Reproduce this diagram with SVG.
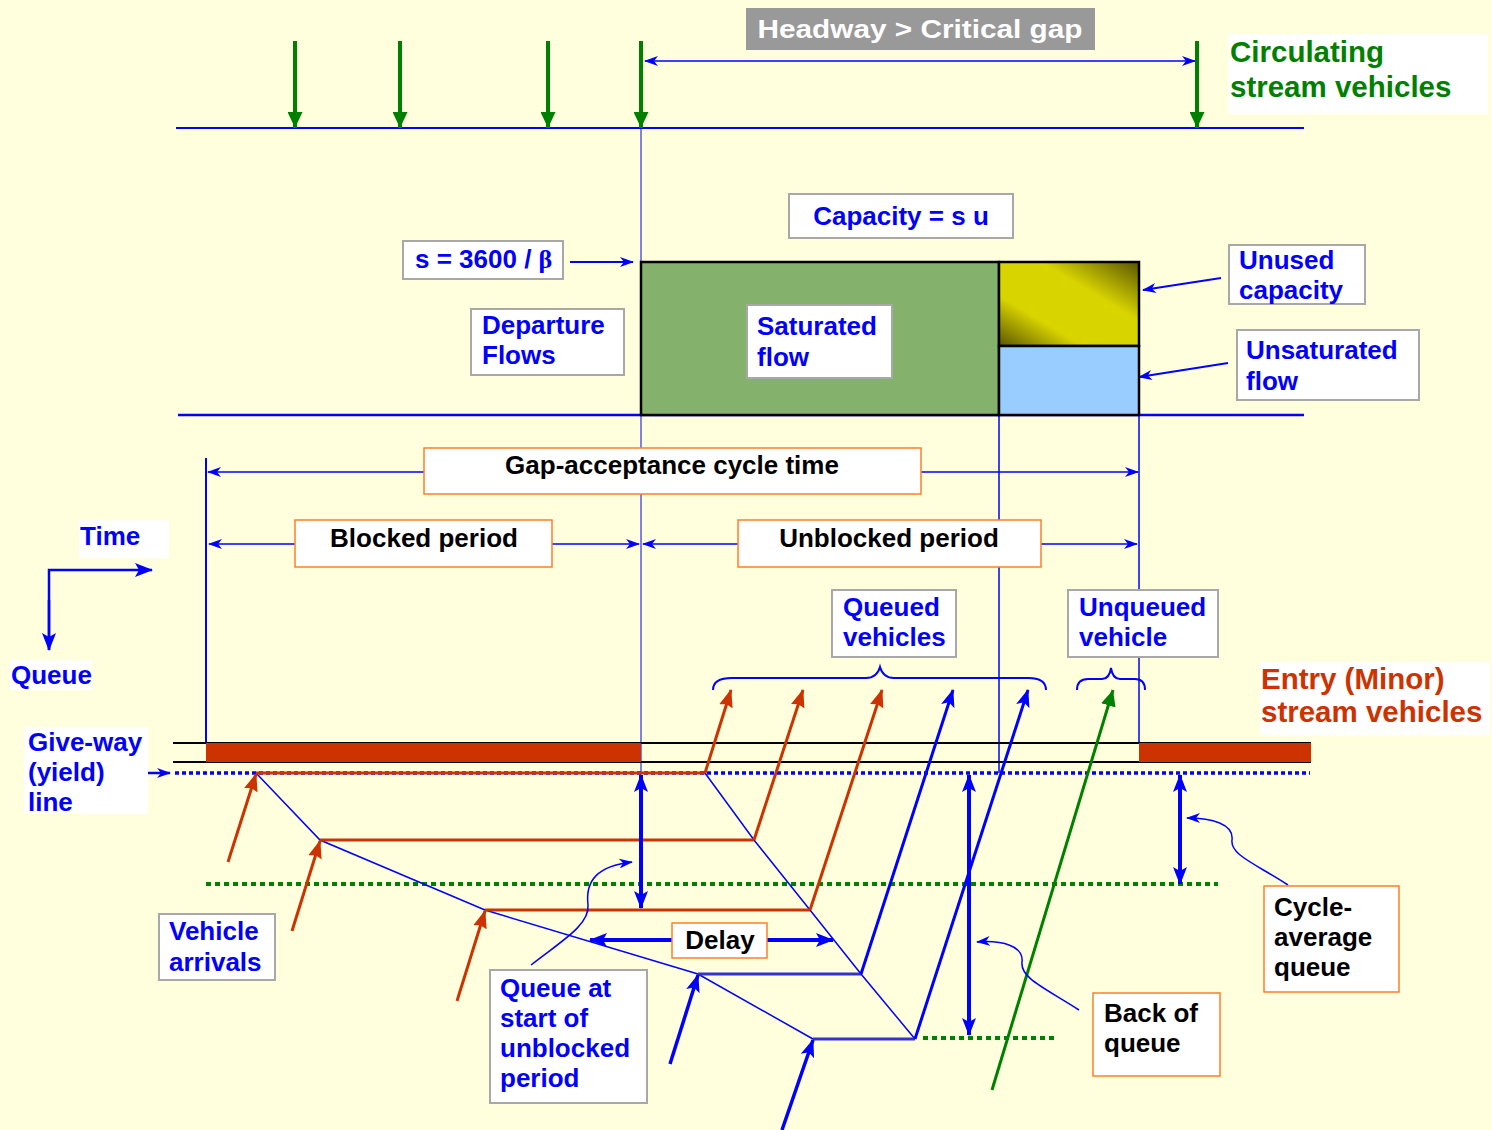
<svg xmlns="http://www.w3.org/2000/svg" width="1492" height="1130" viewBox="0 0 1492 1130">
<style>
text{font-family:"Liberation Sans",Arial,sans-serif;font-weight:bold;font-size:26px}
.bl{fill:#0000ff}.bk{fill:#000}.gr{fill:#008000;font-size:29.5px}.rd{fill:#cc3300;font-size:29.5px}
.gbox{fill:#fff;stroke:#a8a8a8;stroke-width:2}
.obox{fill:#fff;stroke:#ff7f27;stroke-width:1.5}
.wbox{fill:#fff}
.tl{stroke:#0000ff;stroke-width:1.5;fill:none}
.ml{stroke:#0000ff;stroke-width:2;fill:none}
.tk{stroke:#0000ff;stroke-width:4;fill:none}
.ga{stroke:#008000;stroke-width:4;fill:none}
.ra{stroke:#cc3300;stroke-width:3;fill:none}
</style>
<defs>
<marker id="ab" viewBox="0 0 14 10" refX="13" refY="5" markerWidth="14" markerHeight="10" markerUnits="userSpaceOnUse" orient="auto-start-reverse"><path d="M0,0 L14,5 L0,10 L4,5z" fill="#0000ff"/></marker>
<marker id="abk" viewBox="0 0 18 14" refX="17" refY="7" markerWidth="18" markerHeight="14" markerUnits="userSpaceOnUse" orient="auto-start-reverse"><path d="M0,0 L18,7 L0,14 L4,7z" fill="#0000ff"/></marker>
<marker id="ag" viewBox="0 0 16 15" refX="16" refY="7.5" markerWidth="16" markerHeight="15" markerUnits="userSpaceOnUse" orient="auto"><path d="M0,0 L16,7.5 L0,15z" fill="#008000"/></marker>
<marker id="ar" viewBox="0 0 18 14" refX="17" refY="7" markerWidth="18" markerHeight="14" markerUnits="userSpaceOnUse" orient="auto"><path d="M0,0 L18,7 L0,14 L2,7z" fill="#cc3300"/></marker>
<linearGradient id="yg" x1="0" y1="1" x2="1" y2="0">
<stop offset="0" stop-color="#5a5500"/><stop offset="0.3" stop-color="#d8d400"/><stop offset="0.65" stop-color="#d8d400"/><stop offset="1" stop-color="#5a5500"/>
</linearGradient>
</defs>
<rect width="1492" height="1130" fill="#ffffdd"/>

<g id="connectors">
<line x1="176" y1="128" x2="1304" y2="128" class="ml"/>
<line x1="295" y1="41" x2="295" y2="128" class="ga" marker-end="url(#ag)"/>
<line x1="400" y1="41" x2="400" y2="128" class="ga" marker-end="url(#ag)"/>
<line x1="548" y1="41" x2="548" y2="128" class="ga" marker-end="url(#ag)"/>
<line x1="641" y1="41" x2="641" y2="128" class="ga" marker-end="url(#ag)"/>
<line x1="1197" y1="41" x2="1197" y2="128" class="ga" marker-end="url(#ag)"/>
<line x1="645" y1="61" x2="1195" y2="61" class="tl" marker-start="url(#ab)" marker-end="url(#ab)"/>
<line x1="641" y1="128" x2="641" y2="773" stroke="#0000ff" stroke-width="1"/>
<line x1="999" y1="415" x2="999" y2="773" stroke="#0000ff" stroke-width="1.5"/>
<line x1="1139" y1="415" x2="1139" y2="743" stroke="#0000ff" stroke-width="1.5"/>
<line x1="206" y1="458" x2="206" y2="743" class="ml"/>
<line x1="178" y1="415" x2="1304" y2="415" stroke="#0000ff" stroke-width="2.5"/>
<line x1="570" y1="262" x2="633" y2="262" class="ml" marker-end="url(#ab)"/>
<line x1="1221" y1="278" x2="1143" y2="290" class="ml" marker-end="url(#ab)"/>
<line x1="1228" y1="363" x2="1139" y2="377" class="ml" marker-end="url(#ab)"/>
<line x1="424" y1="472" x2="208" y2="472" class="tl" marker-end="url(#ab)"/>
<line x1="921" y1="472" x2="1138" y2="472" class="tl" marker-end="url(#ab)"/>
<line x1="296" y1="544" x2="209" y2="544" class="tl" marker-end="url(#ab)"/>
<line x1="552" y1="544" x2="639" y2="544" class="tl" marker-end="url(#ab)"/>
<line x1="738" y1="544" x2="643" y2="544" class="tl" marker-end="url(#ab)"/>
<line x1="1041" y1="544" x2="1137" y2="544" class="tl" marker-end="url(#ab)"/>
<path d="M49,650 L49,570 L152,570" stroke="#0000ff" stroke-width="2.5" fill="none" marker-end="url(#abk)"/>
<line x1="49" y1="600" x2="49" y2="650" stroke="#0000ff" stroke-width="2.5" marker-end="url(#abk)"/>
<path d="M713,690 C713,682 720,678 732,678 L866,678 C874,678 878,674 880,667 C882,674 886,678 894,678 L1028,678 C1040,678 1046,682 1046,690" class="ml"/>
<path d="M1077,690 C1077,683 1080,679 1088,679 L1102,679 C1107,679 1110,675 1111,668 C1112,675 1115,679 1120,679 L1135,679 C1142,679 1145,683 1145,690" class="ml"/>
<line x1="173" y1="743" x2="1311" y2="743" stroke="#000" stroke-width="2"/>
<line x1="173" y1="762" x2="1311" y2="762" stroke="#000" stroke-width="2"/>
<rect x="206" y="743" width="435" height="19" fill="#cc3300"/>
<rect x="1139" y="743" width="172" height="19" fill="#cc3300"/>
<line x1="175" y1="773" x2="1310" y2="773" stroke="#0000ff" stroke-width="3.5" stroke-dasharray="4 3"/>
<line x1="127" y1="773" x2="170" y2="773" stroke="#0000ff" stroke-width="2.5" marker-end="url(#ab)"/>
<line x1="206" y1="884" x2="1218" y2="884" stroke="#008000" stroke-width="4" stroke-dasharray="5 4"/>
<line x1="923" y1="1038" x2="1054" y2="1038" stroke="#008000" stroke-width="4" stroke-dasharray="5 4"/>
<path d="M256,773 L320,840 L485,910 L698,974 L813,1039" class="tl"/>
<path d="M705,773 L754,840 L810,910 L861,974 L915,1039" class="tl"/>
<line x1="256" y1="773" x2="705" y2="773" class="ra"/>
<line x1="320" y1="840" x2="754" y2="840" class="ra"/>
<line x1="485" y1="910" x2="810" y2="910" class="ra"/>
<line x1="698" y1="974" x2="861" y2="974" stroke="#3333cc" stroke-width="3"/>
<line x1="813" y1="1039" x2="915" y2="1039" stroke="#3333cc" stroke-width="3"/>
<line x1="228" y1="862" x2="256" y2="774" class="ra" marker-end="url(#ar)"/>
<line x1="292" y1="931" x2="320" y2="841" class="ra" marker-end="url(#ar)"/>
<line x1="457" y1="1001" x2="485" y2="911" class="ra" marker-end="url(#ar)"/>
<line x1="670" y1="1064" x2="698" y2="975" stroke="#0000ff" stroke-width="3.5" marker-end="url(#abk)"/>
<line x1="782" y1="1130" x2="813" y2="1040" stroke="#0000ff" stroke-width="3.5" marker-end="url(#abk)"/>
<line x1="705" y1="773" x2="731" y2="690" class="ra" marker-end="url(#ar)"/>
<line x1="754" y1="840" x2="803" y2="690" class="ra" marker-end="url(#ar)"/>
<line x1="810" y1="910" x2="882" y2="690" class="ra" marker-end="url(#ar)"/>
<line x1="861" y1="974" x2="953" y2="690" stroke="#0000ff" stroke-width="3" marker-end="url(#abk)"/>
<line x1="915" y1="1039" x2="1028" y2="690" stroke="#0000ff" stroke-width="3" marker-end="url(#abk)"/>
<line x1="992" y1="1090" x2="1113" y2="690" stroke="#008000" stroke-width="3" marker-end="url(#ag)"/>
<line x1="641" y1="775" x2="641" y2="908" class="tk" marker-start="url(#abk)" marker-end="url(#abk)"/>
<line x1="969" y1="775" x2="969" y2="1035" class="tk" marker-start="url(#abk)" marker-end="url(#abk)"/>
<line x1="1180" y1="775" x2="1180" y2="884" class="tk" marker-start="url(#abk)" marker-end="url(#abk)"/>
<line x1="672" y1="940" x2="590" y2="940" class="tk" marker-end="url(#abk)"/>
<line x1="767" y1="940" x2="833" y2="940" class="tk" marker-end="url(#abk)"/>
<path d="M531,965 C560,942 590,925 588,905 C585,880 598,866 632,862" class="tl" marker-end="url(#ab)"/>
<path d="M1079,1010 C1045,988 1020,978 1022,962 C1024,946 1002,940 977,942" class="tl" marker-end="url(#ab)"/>
<path d="M1288,885 C1256,864 1230,855 1232,840 C1234,824 1212,818 1187,818" class="tl" marker-end="url(#ab)"/>
</g>

<g id="headway"><rect x="746" y="8" width="349" height="42" fill="#999999"/><text x="920" y="38" text-anchor="middle" fill="#fff" font-size="29.5" textLength="325" lengthAdjust="spacingAndGlyphs">Headway &gt; Critical gap</text></g>
<g id="circulating"><rect x="1228" y="34" width="260" height="80" class="wbox"/><text class="gr" x="1230" y="62">Circulating</text><text class="gr" x="1230" y="97">stream vehicles</text></g>

<g id="flow-blocks">
<rect x="641" y="262" width="358" height="153" fill="#84b26c" stroke="#000" stroke-width="2.5"/>
<rect x="999" y="262" width="140" height="84" fill="url(#yg)" stroke="#000" stroke-width="2.5"/>
<rect x="999" y="346" width="140" height="69" fill="#99ccff" stroke="#000" stroke-width="2.5"/>
</g>

<g id="capacity"><rect x="789" y="194" width="224" height="44" class="gbox"/><text class="bl" x="901" y="225" text-anchor="middle">Capacity = s u</text></g>
<g id="s-rate"><rect x="403" y="241" width="160" height="38" class="gbox"/><text class="bl" x="415" y="268">s = 3600 / <tspan font-family="'Liberation Serif',serif">β</tspan></text></g>
<g id="departure"><rect x="471" y="309" width="153" height="66" class="gbox"/><text class="bl" x="482" y="334">Departure</text><text class="bl" x="482" y="364">Flows</text></g>
<g id="saturated"><rect x="747" y="305" width="145" height="73" class="gbox"/><text class="bl" x="757" y="335">Saturated</text><text class="bl" x="757" y="366">flow</text></g>
<g id="unused"><rect x="1229" y="245" width="136" height="59" class="gbox"/><text class="bl" x="1239" y="269">Unused</text><text class="bl" x="1239" y="299">capacity</text></g>
<g id="unsaturated"><rect x="1237" y="330" width="182" height="70" class="gbox"/><text class="bl" x="1246" y="359">Unsaturated</text><text class="bl" x="1246" y="390">flow</text></g>

<g id="cycle-time"><rect x="424" y="448" width="497" height="46" class="obox"/><text class="bk" x="672" y="474" text-anchor="middle">Gap-acceptance cycle time</text></g>
<g id="blocked"><rect x="295" y="520" width="257" height="47" class="obox"/><text class="bk" x="424" y="547" text-anchor="middle">Blocked period</text></g>
<g id="unblocked"><rect x="738" y="520" width="303" height="47" class="obox"/><text class="bk" x="889" y="547" text-anchor="middle">Unblocked period</text></g>

<g id="time"><rect x="79" y="520" width="90" height="38" class="wbox"/><text class="bl" x="80" y="545">Time</text></g>
<g id="queue"><rect x="10" y="660" width="82" height="30" class="wbox"/><text class="bl" x="11" y="684">Queue</text></g>

<g id="queued"><rect x="832" y="590" width="124" height="67" class="gbox"/><text class="bl" x="843" y="616">Queued</text><text class="bl" x="843" y="646">vehicles</text></g>
<g id="unqueued"><rect x="1068" y="590" width="150" height="67" class="gbox"/><text class="bl" x="1079" y="616">Unqueued</text><text class="bl" x="1079" y="646">vehicle</text></g>
<g id="entry"><rect x="1260" y="662" width="230" height="73" class="wbox"/><text class="rd" x="1261" y="689">Entry (Minor)</text><text class="rd" x="1261" y="722">stream vehicles</text></g>
<g id="giveway"><rect x="24" y="727" width="124" height="87" class="wbox"/><text class="bl" x="28" y="751">Give-way</text><text class="bl" x="28" y="781">(yield)</text><text class="bl" x="28" y="811">line</text></g>

<g id="delay"><rect x="672" y="923" width="95" height="35" class="obox"/><text class="bk" x="720" y="949" text-anchor="middle">Delay</text></g>
<g id="arrivals"><rect x="159" y="914" width="116" height="66" class="gbox"/><text class="bl" x="169" y="940">Vehicle</text><text class="bl" x="169" y="971">arrivals</text></g>
<g id="queue-start"><rect x="490" y="970" width="157" height="133" class="gbox"/><text class="bl" x="500" y="997">Queue at</text><text class="bl" x="500" y="1027">start of</text><text class="bl" x="500" y="1057">unblocked</text><text class="bl" x="500" y="1087">period</text></g>
<g id="back-of-queue"><rect x="1093" y="993" width="127" height="83" class="obox"/><text class="bk" x="1104" y="1022">Back of</text><text class="bk" x="1104" y="1052">queue</text></g>
<g id="cycle-average"><rect x="1264" y="886" width="135" height="106" class="obox"/><text class="bk" x="1274" y="916">Cycle-</text><text class="bk" x="1274" y="946">average</text><text class="bk" x="1274" y="976">queue</text></g>
</svg>
